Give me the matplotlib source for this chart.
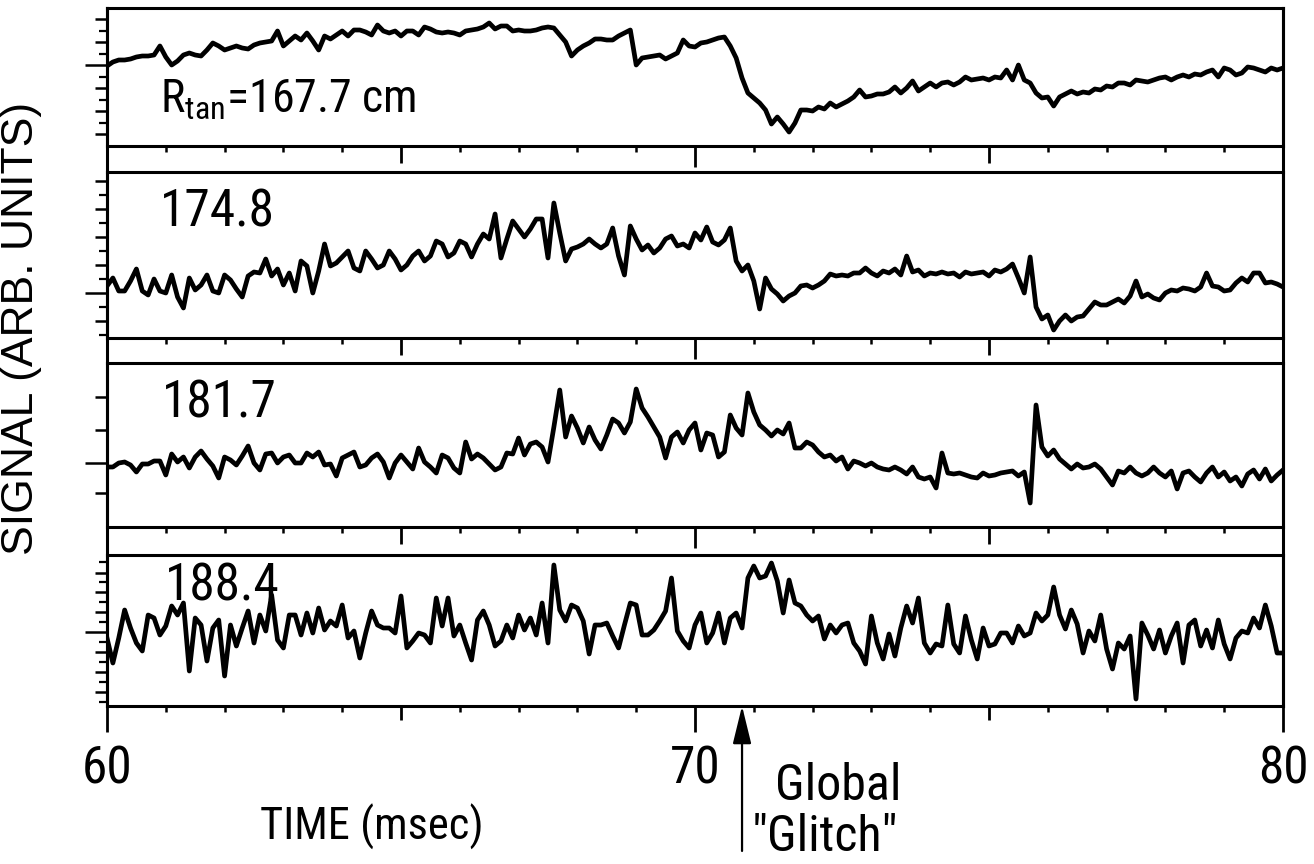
import numpy as np
import matplotlib
matplotlib.use("Agg")
import matplotlib.pyplot as plt
from matplotlib.lines import Line2D

plt.rcParams['font.family'] = ['Roboto Condensed', 'PT Sans Narrow', 'DejaVu Sans']
plt.rcParams['mathtext.default'] = 'regular'

time_ms = np.round(np.linspace(60.0, 80.0, 201), 2)

# signal heights (arb. units) for each tangency radius
sig_1677 = [
    80, 84, 86, 86, 87, 89, 90, 90, 91, 100,
    89, 81, 85, 91, 93, 91, 90, 96, 103, 100,
    96, 98, 100, 98, 97, 101, 103, 104, 105, 115,
    100, 105, 110, 106, 113, 105, 96, 110, 107, 111,
    115, 110, 116, 116, 114, 111, 121, 115, 113, 115,
    110, 115, 115, 111, 119, 117, 114, 113, 114, 113,
    111, 115, 116, 117, 119, 123, 117, 120, 120, 115,
    116, 115, 115, 116, 118, 119, 118, 111, 104, 90,
    96, 100, 103, 107, 107, 106, 106, 110, 113, 116,
    81, 88, 89, 90, 91, 87, 90, 93, 106, 100,
    99,
    103, 104, 106, 108, 109, 100, 88, 68, 53, 48,
    43, 36, 22, 29, 22, 14, 23, 36, 36, 35,
    39, 37, 43, 39, 42, 45, 49, 56, 49, 50,
    52, 52, 54, 59, 53, 58, 65, 55, 59, 63,
    59, 63, 64, 61, 64, 69, 66, 67, 68, 66,
    69, 68, 76, 66, 81, 66, 63, 53, 48, 49,
    40, 49, 52, 55, 52, 54, 53, 57, 56, 60,
    59, 63, 63, 61, 66, 65, 64, 66, 68, 69,
    66, 69, 71, 69, 72, 71, 74, 76, 69, 78,
    76, 71, 73, 79, 78, 76, 74, 78, 76, 78,
]
sig_1748 = [
    52, 60, 47, 47, 57, 69, 47, 43, 59, 47,
    45, 63, 41, 30, 60, 48, 53, 63, 47, 45,
    63, 58, 49, 41, 62, 66, 65, 79, 62, 69,
    53, 65, 47, 77, 72, 45, 67, 94, 72, 75,
    81, 87, 70, 67, 87, 79, 70, 73, 87, 79,
    68, 73, 82, 87, 77, 82, 97, 94, 81, 85,
    97, 94, 81, 94, 104, 99, 124, 80, 99, 117,
    109, 101, 109, 119, 119, 80, 135, 105, 77, 89,
    91, 94, 99, 94, 90, 94, 110, 82, 63, 112,
    99, 88, 93, 85, 90, 99, 102, 92, 94, 90,
    105,
    98, 111, 96, 93, 98, 110, 77, 67, 73, 57,
    29, 60, 49, 44, 37, 42, 45, 52, 53, 50,
    53, 57, 64, 62, 63, 62, 65, 65, 70, 65,
    62, 67, 65, 69, 63, 82, 66, 68, 62, 65,
    64, 66, 64, 65, 61, 66, 64, 65, 66, 62,
    68, 66, 69, 74, 60, 45, 81, 31, 19, 23,
    8, 17, 23, 17, 21, 22, 29, 36, 33, 33,
    36, 39, 35, 42, 57, 41, 44, 40, 38, 45,
    48, 47, 50, 49, 47, 51, 65, 52, 51, 47,
    48, 55, 60, 56, 65, 65, 55, 56, 54, 51,
]
sig_1817 = [
    60, 60, 64, 65, 62, 55, 63, 63, 66, 66,
    52, 73, 65, 70, 59, 70, 76, 68, 61, 49,
    70, 67, 62, 71, 81, 64, 57, 73, 74, 64,
    70, 72, 64, 64, 74, 70, 75, 62, 63, 51,
    69, 72, 75, 60, 62, 69, 73, 65, 49, 64,
    72, 65, 58, 79, 65, 60, 54, 72, 69, 59,
    54, 85, 68, 73, 69, 63, 57, 60, 74, 73,
    89, 72, 83, 85, 80, 65, 100, 137, 90, 111,
    99, 84, 100, 87, 78, 92, 108, 104, 94, 105,
    138, 119, 110, 100, 90, 69, 90, 95, 84, 97,
    104,
    77, 94, 92, 70, 75, 112, 99, 92, 134, 115,
    102, 97, 91, 97, 93, 104, 79, 79, 85, 82,
    75, 70, 72, 66, 70, 58, 66, 64, 61, 64,
    60, 58, 57, 60, 57, 53, 60, 50, 48, 50,
    39, 74, 54, 53, 54, 52, 50, 49, 54, 51,
    52, 54, 55, 56, 51, 55, 24, 122, 80, 71,
    77, 68, 63, 58, 63, 59, 60, 63, 58, 50,
    42, 56, 54, 60, 54, 51, 54, 60, 54, 50,
    56, 38, 54, 56, 50, 45, 54, 60, 50, 55,
    46, 50, 41, 53, 57, 48, 58, 46, 52, 57,
]
sig_1884 = [
    68, 43, 68, 96, 78, 63, 55, 91, 88, 71,
    80, 100, 91, 103, 35, 88, 81, 45, 78, 86,
    30, 81, 60, 78, 95, 63, 91, 75, 111, 66,
    58, 91, 91, 71, 93, 73, 98, 76, 85, 80,
    101, 68, 75, 48, 73, 95, 81, 78, 78, 73,
    110, 58, 65, 73, 71, 63, 108, 80, 108, 70,
    81, 63, 46, 86, 95, 81, 60, 65, 81, 68,
    91, 76, 88, 71, 103, 63, 141, 96, 85, 101,
    98, 85, 52, 81, 81, 83, 70, 58, 81, 103,
    101, 71, 71, 76, 85, 95, 128, 75, 65, 58,
    81,
    93, 63, 73, 93, 63, 88, 93, 78, 128, 140,
    128, 130, 143, 125, 93, 126, 103, 100, 91, 85,
    90, 67, 81, 73, 81, 83, 63, 55, 42, 90,
    63, 47, 72, 50, 78, 100, 83, 108, 63, 53,
    62, 60, 101, 62, 53, 90, 66, 47, 78, 60,
    62, 73, 73, 63, 80, 70, 73, 93, 85, 91,
    119, 91, 77, 96, 82, 53, 75, 65, 91, 57,
    37, 63, 57, 70, 7, 83, 71, 57, 76, 53,
    70, 83, 43, 81, 86, 60, 76, 58, 86, 62,
    47, 68, 75, 73, 88, 78, 101, 80, 53, 53,
]
radii = [r"$R_{tan}$=167.7 cm", "174.8", "181.7", "188.4"]
glitch_time = 70.8

W, H = 1314, 864
x_left, x_right = 107, 1283
# (top, bottom) of each panel in pixels
rows = [(8, 146), (172, 338), (363, 527), (555, 706)]
label_pos = [(0.045, 0.24, 33), (0.045, 0.67, 37), (0.047, 0.665, 37), (0.049, 0.70, 37)]

# y tick marks: (major, minor, long one at the trace level)
yt = [
    ([12, 35, 58, 81, 104, 127], [23.5, 46.5, 69.5, 92.5, 115.5], 81),
    ([17, 45, 73, 101, 129, 157], [3, 31, 59, 87, 115, 143], 45),
    ([34, 64, 97, 130], [], 64),
    ([14, 34, 54, 74, 94, 114, 133], [4, 24, 44, 64, 84, 104, 124, 144], 74),
]

fig = plt.figure(figsize=(W / 100, H / 100), dpi=100)
traces = [sig_1677, sig_1748, sig_1817, sig_1884]
axes = []
for i, (top, bot) in enumerate(rows):
    ax = fig.add_axes([x_left / W, 1 - bot / H, (x_right - x_left) / W, (bot - top) / H])
    ax.plot(time_ms, traces[i], color='black', lw=3.4, solid_joinstyle='round')
    ax.set_xlim(60, 80)
    ax.set_ylim(0, bot - top)
    for s in ax.spines.values():
        s.set_linewidth(2.2)

    # x ticks hang down into the gap below each panel
    ax.set_xticks([60, 65, 70, 75, 80])
    ax.set_xticks(range(61, 80), minor=True)
    ax.tick_params(axis='x', which='major', direction='out', length=12, width=2.0)
    ax.tick_params(axis='x', which='minor', direction='out', length=4.5, width=1.8)

    major, minor, level = yt[i]
    ax.set_yticks(major)
    ax.set_yticks(minor, minor=True)
    ax.set_yticklabels([])
    ax.tick_params(axis='y', which='major', direction='out', length=9, width=1.8)
    ax.tick_params(axis='y', which='minor', direction='out', length=5.5, width=1.6)
    for t, v in zip(ax.yaxis.get_major_ticks(), major):
        if v == level:
            t.tick1line.set_markersize(16)

    lx, ly, fs = label_pos[i]
    ax.text(lx, ly, radii[i], transform=ax.transAxes, fontsize=fs,
            ha='left', va='baseline')
    axes.append(ax)

for ax in axes[:-1]:
    ax.set_xticklabels([])
    ticks = ax.xaxis.get_major_ticks()
    ticks[2].tick1line.set_markersize(15)

ax4 = axes[-1]
ax4.set_xticklabels(['60', '', '70', '', '80'], fontsize=37)
ax4.tick_params(axis='x', which='major', length=19, pad=9)
ticks = ax4.xaxis.get_major_ticks()
for k in (1, 3):
    ticks[k].tick1line.set_markersize(10)

# frame sides run unbroken through the gaps between panels
for xp in (x_left, x_right):
    fig.add_artist(Line2D([xp / W, xp / W], [1 - rows[0][0] / H, 1 - rows[-1][1] / H],
                          transform=fig.transFigure, color='black', lw=2.2))

fig.text(22 / W, 1 - 328 / H, 'SIGNAL (ARB. UNITS)', rotation=90, fontsize=32,
         family=['Liberation Sans', 'DejaVu Sans'], ha='center', va='center')
fig.text(372 / W, 1 - 840 / H, 'TIME (msec)', fontsize=32, ha='center', va='baseline')

ax4.annotate('', xy=(glitch_time, 0), xycoords=('data', 'axes fraction'),
             xytext=(glitch_time, -0.96), textcoords=('data', 'axes fraction'),
             arrowprops=dict(arrowstyle='-|>,head_length=0.9,head_width=0.22',
                             color='black', lw=1.6, mutation_scale=26,
                             shrinkA=0, shrinkB=0))
fig.text(775 / W, 1 - 800 / H, 'Global', fontsize=36, ha='left', va='baseline')
fig.text(752 / W, 1 - 851 / H, '"Glitch"', fontsize=36, ha='left', va='baseline')

fig.savefig('out.png', dpi=100, facecolor='white')
